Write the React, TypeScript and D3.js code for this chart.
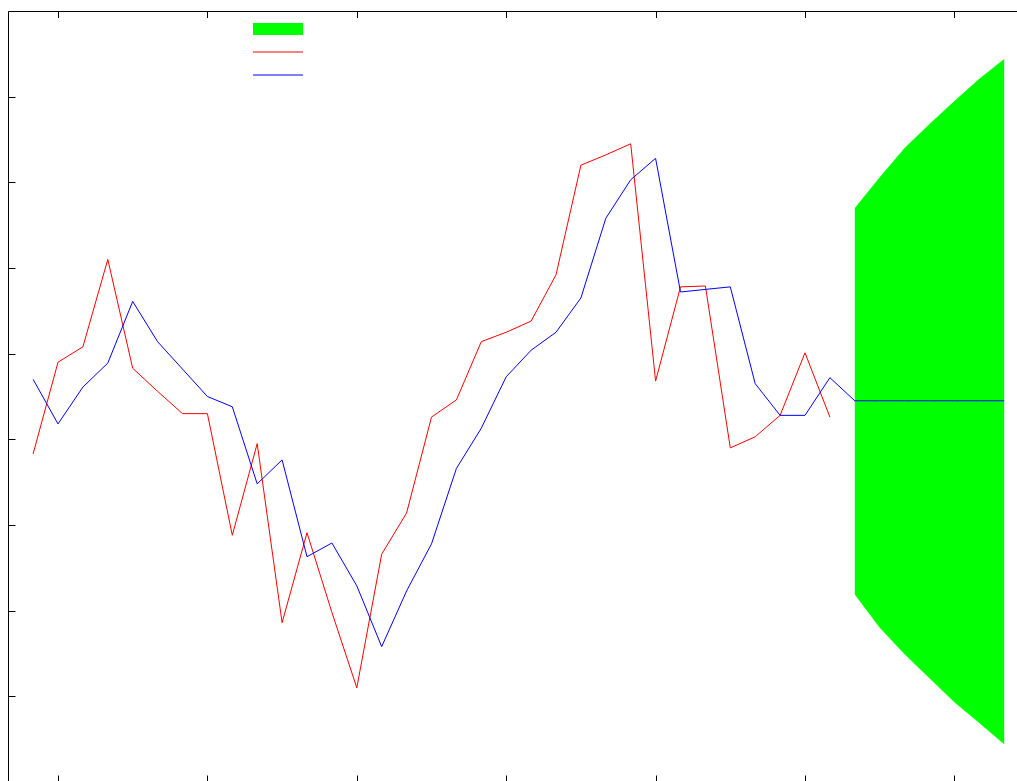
import React from "react";
import * as d3 from "d3";

// Observed series (index 0..32) and fitted series (index 0..33)
const observed: number[] = [
  3.83, 4.9, 5.08, 6.1, 4.83, 4.56, 4.3, 4.3, 2.88, 3.95, 1.86, 2.91, 1.98, 1.1,
  2.66, 3.14, 4.26, 4.46, 5.14, 5.25, 5.38, 5.92, 7.2, 7.32, 7.45, 4.68, 5.78,
  5.79, 3.9, 4.03, 4.28, 5.01, 4.26,
];
const fitted: number[] = [
  4.7, 4.18, 4.61, 4.89, 5.61, 5.14, 4.82, 4.5, 4.38, 3.48, 3.76, 2.63, 2.79,
  2.29, 1.58, 2.23, 2.78, 3.66, 4.13, 4.73, 5.04, 5.25, 5.65, 6.58, 7.03, 7.28,
  5.72, 5.75, 5.78, 4.65, 4.28, 4.28, 4.72, 4.45,
];
// Forecast (index 33..39)
const forecastStart = 33;
const forecastMean: number[] = [4.45, 4.45, 4.45, 4.45, 4.45, 4.45, 4.45];
const forecastUpper: number[] = [6.7, 7.06, 7.4, 7.68, 7.95, 8.21, 8.44];
const forecastLower: number[] = [2.19, 1.8, 1.49, 1.21, 0.93, 0.69, 0.44];

const xTicks: number[] = [1, 7, 13, 19, 25, 31, 37];
const yTicks: number[] = [1, 2, 3, 4, 5, 6, 7, 8];

const W = 1017;
const H = 781;

export default function App() {
  const x = d3.scaleLinear().domain([0, 39]).range([33.1, 1004.2]);
  const y = d3.scaleLinear().domain([0, 9]).range([782, 11]);

  const line = d3
    .line<[number, number]>()
    .x((d) => x(d[0]))
    .y((d) => y(d[1]));

  const obsPts: [number, number][] = observed.map((v, i) => [i, v]);
  const fitPts: [number, number][] = fitted.map((v, i) => [i, v]);
  const meanPts: [number, number][] = forecastMean.map((v, i) => [
    forecastStart + i,
    v,
  ]);

  const area = d3
    .area<number>()
    .x((_, i) => x(forecastStart + i))
    .y0((_, i) => y(forecastLower[i]))
    .y1((_, i) => y(forecastUpper[i]));

  const left = 8.5;
  const top = 11.5;
  const bottom = 782;

  return (
    <svg
      width={W}
      height={H}
      style={{ position: "absolute", left: 0, top: 0 }}
      shapeRendering="auto"
    >
      <rect x={0} y={0} width={W} height={H} fill="#fff" />
      <path d={area(forecastUpper) || ""} fill="#00ff00" stroke="none" />
      <path d={line(obsPts) || ""} fill="none" stroke="#ff0000" strokeWidth={1} />
      <path d={line(fitPts) || ""} fill="none" stroke="#0000ff" strokeWidth={1} />
      <path d={line(meanPts) || ""} fill="none" stroke="#0000ff" strokeWidth={1} />

      {/* frame */}
      <line x1={left} x2={left} y1={top} y2={H + 2} stroke="#000" strokeWidth={1} />
      <line x1={left} x2={W + 2} y1={top} y2={top} stroke="#000" strokeWidth={1} />

      {xTicks.map((t) => (
        <g key={"xt" + t}>
          <line
            x1={Math.round(x(t)) + 0.5}
            x2={Math.round(x(t)) + 0.5}
            y1={top}
            y2={top + 6.5}
            stroke="#000"
          />
          <line
            x1={Math.round(x(t)) + 0.5}
            x2={Math.round(x(t)) + 0.5}
            y1={bottom}
            y2={bottom - 6.5}
            stroke="#000"
          />
        </g>
      ))}
      {yTicks.map((t) => (
        <line
          key={"yt" + t}
          x1={left}
          x2={left + 7}
          y1={Math.round(y(t)) + 0.5}
          y2={Math.round(y(t)) + 0.5}
          stroke="#000"
        />
      ))}

      {/* legend */}
      <rect x={253} y={23} width={50} height={12} fill="#00ff00" />
      <line x1={253} x2={303} y1={52} y2={52} stroke="#ff0000" strokeWidth={1} />
      <line x1={253} x2={303} y1={75} y2={75} stroke="#0000ff" strokeWidth={1} />
    </svg>
  );
}
